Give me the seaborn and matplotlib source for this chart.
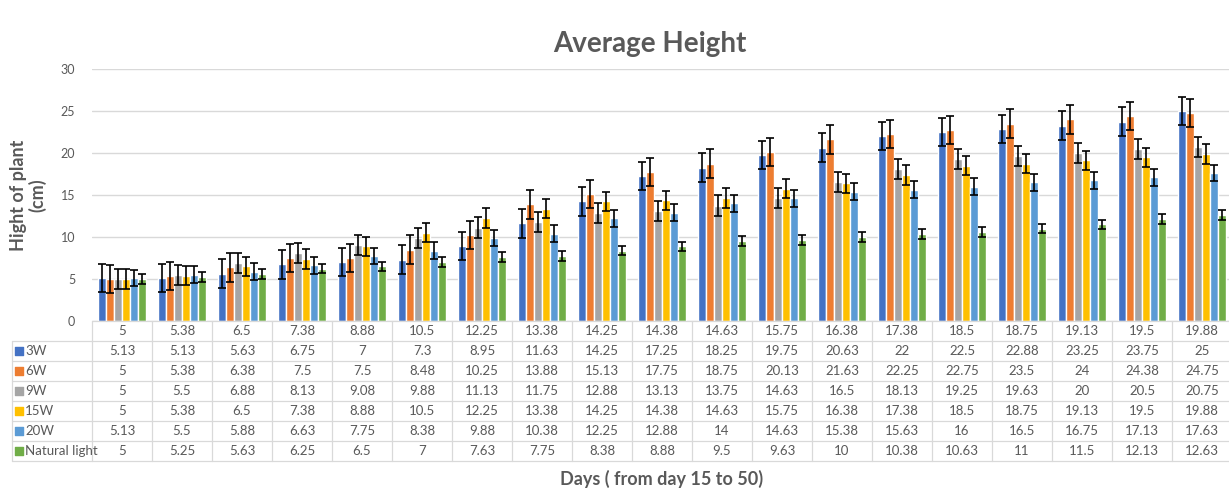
import numpy as np
import pandas as pd
import matplotlib
matplotlib.use("Agg")
import matplotlib.pyplot as plt
import seaborn as sns

# x categories (as printed in the header row of the data table)
days = ["5", "5.38", "6.5", "7.38", "8.88", "10.5", "12.25", "13.38", "14.25", "14.38",
        "14.63", "15.75", "16.38", "17.38", "18.5", "18.75", "19.13", "19.5", "19.88"]

series = ["3W", "6W", "9W", "15W", "20W", "Natural light"]

h_3w = [5.13, 5.13, 5.63, 6.75, 7, 7.3, 8.95, 11.63, 14.25, 17.25,
        18.25, 19.75, 20.63, 22, 22.5, 22.88, 23.25, 23.75, 25]
h_6w = [5, 5.38, 6.38, 7.5, 7.5, 8.48, 10.25, 13.88, 15.13, 17.75,
        18.75, 20.13, 21.63, 22.25, 22.75, 23.5, 24, 24.38, 24.75]
h_9w = [5, 5.5, 6.88, 8.13, 9.08, 9.88, 11.13, 11.75, 12.88, 13.13,
        13.75, 14.63, 16.5, 18.13, 19.25, 19.63, 20, 20.5, 20.75]
h_15w = [5, 5.38, 6.5, 7.38, 8.88, 10.5, 12.25, 13.38, 14.25, 14.38,
         14.63, 15.75, 16.38, 17.38, 18.5, 18.75, 19.13, 19.5, 19.88]
h_20w = [5.13, 5.5, 5.88, 6.63, 7.75, 8.38, 9.88, 10.38, 12.25, 12.88,
         14, 14.63, 15.38, 15.63, 16, 16.5, 16.75, 17.13, 17.63]
h_nat = [5, 5.25, 5.63, 6.25, 6.5, 7, 7.63, 7.75, 8.38, 8.88,
         9.5, 9.63, 10, 10.38, 10.63, 11, 11.5, 12.13, 12.63]

# error bar half-lengths (roughly constant per series)
err = [1.7, 1.7, 1.2, 1.15, 1.0, 0.58]

colors = ["#4472C4", "#ED7D31", "#A5A5A5", "#FFC000", "#5B9BD5", "#70AD47"]
gray = "#595959"
line_c = "#D9D9D9"

values = [h_3w, h_6w, h_9w, h_15w, h_20w, h_nat]
df = pd.DataFrame({
    "day": np.tile(days, len(series)),
    "series": np.repeat(series, len(days)),
    "height": np.concatenate(values),
})

sns.set_style("white")
plt.rcParams["font.family"] = ["Lato", "DejaVu Sans"]

W, H = 1229, 490
fig = plt.figure(figsize=(W / 100, H / 100), dpi=100)

x0, x1 = 92, 1232          # data columns, pixels
y_top, y_zero = 69, 321    # 30 and 0 on the value axis
ax = fig.add_axes([x0 / W, 1 - y_zero / H, (x1 - x0) / W, (y_zero - y_top) / H])

sns.barplot(data=df, x="day", y="height", hue="series", order=days, hue_order=series,
            palette=colors, saturation=1, errorbar=None, width=0.8, gap=0,
            legend=False, ax=ax)

for cont, e in zip(ax.containers, err):
    xs = [p.get_x() + p.get_width() / 2 for p in cont.patches]
    hs = [p.get_height() for p in cont.patches]
    ax.errorbar(xs, hs, yerr=e, fmt="none", ecolor="black", elinewidth=1.2,
                capsize=3.2, capthick=1.2, zorder=5)

ax.set_ylim(0, 30)
ax.set_xlim(-0.5, len(days) - 0.5)
ax.set_yticks(range(0, 31, 5))
ax.yaxis.grid(True, color=line_c, lw=1)
ax.set_axisbelow(True)
for s in ax.spines.values():
    s.set_visible(False)
ax.tick_params(axis="y", length=0, pad=12, labelsize=9, labelcolor=gray)
ax.set_xticks([])
ax.set_xlabel("")
ax.set_ylabel("Hight of plant\n(cm)", fontsize=13, fontweight="bold", color=gray,
              linespacing=1.1, va="center", ha="center")
ax.yaxis.set_label_coords(-0.056, 0.5)

# data table under the chart
tx0, ty_bot = 12, 461
n_rows = 7
tax = fig.add_axes([tx0 / W, 1 - ty_bot / H, (x1 - tx0) / W, (ty_bot - y_zero) / H])
left = -0.5 - (x0 - tx0) / ((x1 - x0) / len(days))
tax.set_xlim(left, len(days) - 0.5)
tax.set_ylim(n_rows, 0)
tax.axis("off")

lw = 0.9
tax.plot([-0.5, len(days) - 0.5], [0, 0], color=line_c, lw=lw, clip_on=False)
for r in range(1, n_rows + 1):
    tax.plot([left, len(days) - 0.5], [r, r], color=line_c, lw=lw, clip_on=False)
for i in range(len(days) + 1):
    tax.plot([i - 0.5, i - 0.5], [0, n_rows], color=line_c, lw=lw, clip_on=False)
tax.plot([left, left], [1, n_rows], color=line_c, lw=lw, clip_on=False)

for i, d in enumerate(days):
    tax.text(i, 0.5, d, ha="center", va="center", fontsize=9.5, color=gray)
for r, (name, vals, c) in enumerate(zip(series, values, colors), start=1):
    tax.scatter([left + 0.12], [r + 0.5], marker="s", s=30, color=c, clip_on=False)
    tax.text(left + 0.22, r + 0.5, name, ha="left", va="center", fontsize=9.5, color=gray)
    for i, v in enumerate(vals):
        tax.text(i, r + 0.5, f"{v:g}", ha="center", va="center", fontsize=9.5, color=gray)

fig.text(650 / W, 1 - 44 / H, "Average Height", ha="center", va="center",
         fontsize=20, fontweight="bold", color=gray)
fig.text(662 / W, 1 - 479 / H, "Days ( from day 15 to 50)", ha="center", va="center",
         fontsize=13, fontweight="bold", color=gray)

fig.savefig("out.png", dpi=100)
